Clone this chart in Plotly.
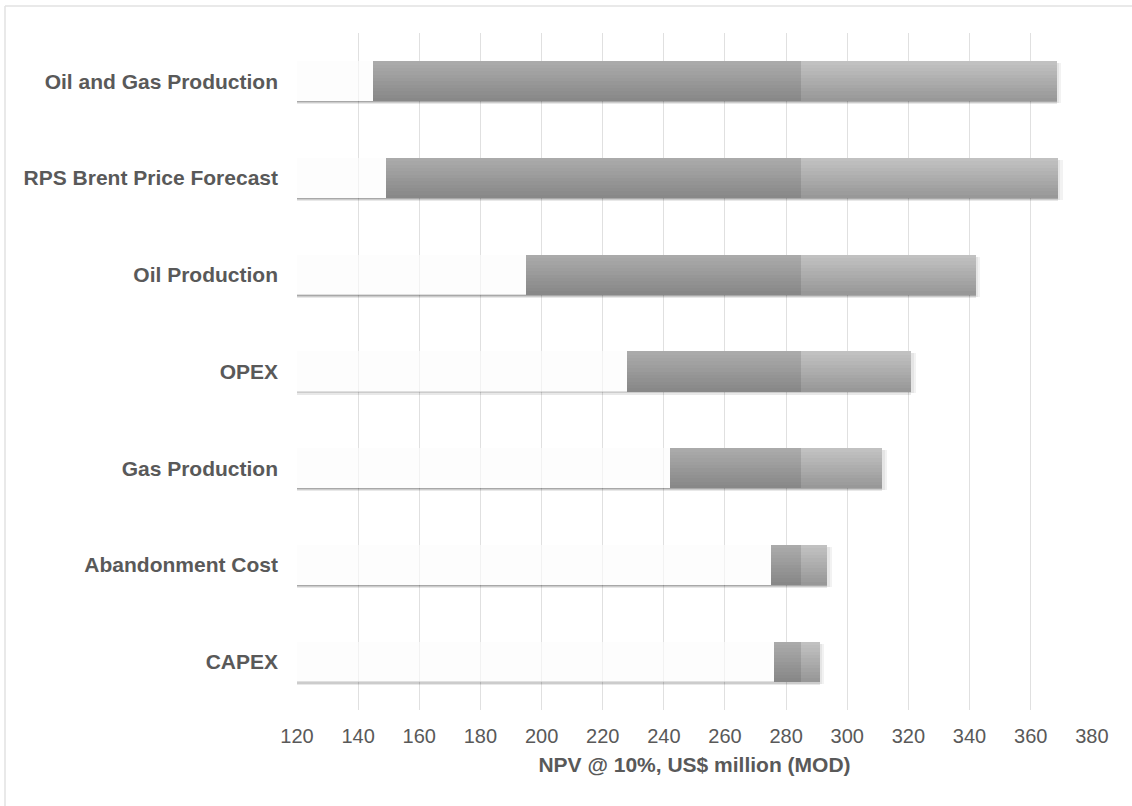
import plotly.graph_objects as go

categories = ["Oil and Gas Production", "RPS Brent Price Forecast", "Oil Production",
              "OPEX", "Gas Production", "Abandonment Cost", "CAPEX"]
low_values = [145, 149, 195, 228, 242, 275, 276]
high_values = [368.5, 369, 342, 321, 311.5, 293.5, 291]
base_case = 285
axis_min = 120
axis_max = 380
tick_values = list(range(120, 381, 20))

BAR_W = 0.414
HALF = BAR_W / 2
N_SLICES = 12

TEXT = "#595959"
FONT = "Liberation Sans, Arial, sans-serif"

fig = go.Figure()

base_lengths = [l - axis_min for l in low_values]
full_lengths = [h - axis_min for h in high_values]

# soft shadow under the whole bar (invisible base + coloured parts)
for k, a in enumerate([0.34, 0.20, 0.09]):
    fig.add_trace(go.Bar(
        y=categories, x=full_lengths, base=[axis_min] * len(categories),
        orientation="h", width=0.012, offset=HALF - 0.004 + k * 0.012,
        marker=dict(color=f"rgba(0,0,0,{a})", line=dict(width=0)),
        hoverinfo="skip", showlegend=False))
# right-edge shadow of coloured bars
for k, a in enumerate([0.10, 0.05]):
    fig.add_trace(go.Bar(
        y=categories, x=[0.7] * len(categories), base=[h + k * 0.7 for h in high_values],
        orientation="h", width=BAR_W, offset=-HALF + 0.02,
        marker=dict(color=f"rgba(0,0,0,{a})", line=dict(width=0)),
        hoverinfo="skip", showlegend=False))

# near-white invisible base segment
fig.add_trace(go.Bar(
    y=categories, x=base_lengths, base=[axis_min] * len(categories),
    orientation="h", width=BAR_W, offset=-HALF,
    marker=dict(color="rgba(252,252,252,0.65)", line=dict(width=0)),
    hoverinfo="skip", showlegend=False))


def lerp(c1, c2, t):
    return tuple(round(a + (b - a) * t) for a, b in zip(c1, c2))


dark_top, dark_bot = (170, 170, 170), (136, 136, 136)
light_top, light_bot = (193, 193, 193), (152, 152, 152)
sw = BAR_W / N_SLICES
for k in range(N_SLICES):
    t = k / (N_SLICES - 1)
    cd = lerp(dark_top, dark_bot, t)
    cl = lerp(light_top, light_bot, t)
    off = -HALF + k * sw
    fig.add_trace(go.Bar(
        y=categories, x=[base_case - l for l in low_values], base=low_values,
        orientation="h", width=sw * 1.02, offset=off,
        marker=dict(color=f"rgb{cd}", line=dict(width=0)),
        hoverinfo="skip", showlegend=False))
    fig.add_trace(go.Bar(
        y=categories, x=[h - base_case for h in high_values],
        base=[base_case] * len(categories),
        orientation="h", width=sw * 1.02, offset=off,
        marker=dict(color=f"rgb{cl}", line=dict(width=0)),
        hoverinfo="skip", showlegend=False))

L, R, T, B = 297, 40, 33, 96
W, H = 1132, 806
pw, ph = W - L - R, H - T - B

fig.update_layout(
    width=W, height=H,
    margin=dict(l=L, r=R, t=T, b=B),
    paper_bgcolor="white", plot_bgcolor="white",
    barmode="overlay", bargap=0,
    font=dict(family=FONT, color=TEXT),
    xaxis=dict(
        range=[axis_min, axis_max + 0.05], tickvals=tick_values,
        showgrid=True, gridcolor="#e0e0e0", gridwidth=1.3,
        zeroline=False, showline=False, ticks="",
        tickfont=dict(family=FONT, size=20, color=TEXT),
        ticklabelstandoff=12,
        title=dict(text="<b>NPV @ 10%, US$ million (MOD)</b>",
                   font=dict(family=FONT, size=21, color=TEXT), standoff=11),
        automargin=False,
    ),
    yaxis=dict(
        autorange="reversed", showgrid=False, zeroline=False, showline=False,
        ticks="", tickfont=dict(family=FONT, size=21, color=TEXT),
        ticklabelstandoff=18, automargin=False,
        tickmode="array", tickvals=categories,
        ticktext=[f"<b>{c}</b>" for c in categories],
    ),
    shapes=[
        dict(type="line", xref="paper", yref="paper",
             x0=(5 - L) / pw, x1=(W - L) / pw, y0=(H - B - 6) / ph, y1=(H - B - 6) / ph,
             line=dict(color="#e2e2e2", width=1.5)),
        dict(type="line", xref="paper", yref="paper",
             x0=(5 - L) / pw, x1=(5 - L) / pw, y0=(H - B - 6) / ph, y1=(H - B - H) / ph,
             line=dict(color="#e2e2e2", width=1.5)),
    ],
)

fig.write_html("out.html")
